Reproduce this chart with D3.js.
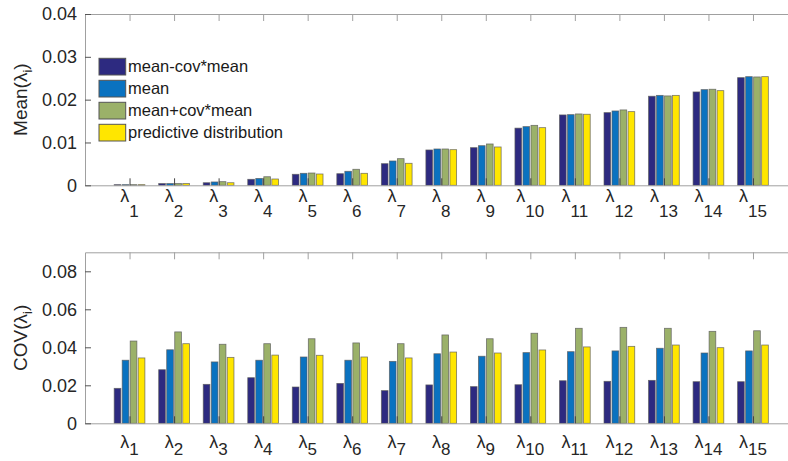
<!DOCTYPE html>
<html>
<head>
<meta charset="utf-8">
<script src="https://cdn.jsdelivr.net/npm/d3@7"></script>
<style>
body{margin:0;background:#fff;}
text{font-family:"Liberation Sans",Arial,sans-serif;}
</style>
</head>
<body>
<svg id="box" width="788" height="461"></svg>
<script>
let lambdas=["1","2","3","4","5","6","7","8","9","10","11","12","13","14","15"];
let seriesNames=["mean-cov*mean","mean","mean+cov*mean","predictive distribution"];
let seriesColors=["#2d2a80","#0a72c0","#9bb169","#ffe600"];

// Mean(lambda_i), one array per series
let meanLow =[0.00015,0.0004,0.0006,0.0014,0.00257,0.00271,0.00505,0.00825,0.00879,0.01335,0.01643,0.01697,0.0208,0.0218,0.02514];
let meanMid =[0.00015,0.0004,0.00078,0.0016,0.0028,0.00327,0.00568,0.00848,0.00925,0.0137,0.0165,0.01736,0.0210,0.02234,0.02537];
let meanHigh=[0.00015,0.0004,0.00085,0.0020,0.00287,0.00374,0.00622,0.00848,0.00965,0.0140,0.01666,0.0176,0.02087,0.02243,0.0253];
let meanPred=[0.00015,0.0004,0.0006,0.00147,0.00264,0.0028,0.00514,0.00832,0.00895,0.01346,0.01659,0.0172,0.0210,0.0221,0.02537];

// COV(lambda_i)
let covLow =[0.0184,0.0282,0.0205,0.0240,0.0191,0.0210,0.0172,0.0202,0.0193,0.0203,0.0224,0.0221,0.0226,0.0219,0.0219];
let covMid =[0.0332,0.0387,0.0323,0.0332,0.0349,0.0332,0.0326,0.0366,0.0353,0.0372,0.0377,0.0381,0.0395,0.0370,0.0381];
let covHigh=[0.0433,0.0481,0.0416,0.0419,0.0445,0.0423,0.0419,0.0465,0.0445,0.0474,0.0500,0.0505,0.0500,0.0484,0.0487];
let covPred=[0.0344,0.0419,0.0347,0.0359,0.0358,0.0349,0.0344,0.0375,0.0370,0.0386,0.0402,0.0405,0.0412,0.0398,0.0412];

let meanTicks=[0,0.01,0.02,0.03,0.04];
let covTicks=[0,0.02,0.04,0.06,0.08];

let box=d3.select("#box");
let axisCol="#a0a0a0";
let textCol="#262626";

let xScale=d3.scaleLinear().domain([0,16]).range([85,797.5]);
let pitch=0.18, bw=0.15;

function panel(series,yScale,ticks,top,bottom,yLabel,subDrop,labY){
  // bars
  series.forEach((vals,s)=>{
    box.append("g").selectAll("rect").data(vals).enter().append("rect")
      .attr("x",(d,i)=>xScale(i+1+(s-1.5)*pitch-bw/2))
      .attr("width",xScale(bw)-xScale(0))
      .attr("y",d=>yScale(d))
      .attr("height",d=>yScale(0)-yScale(d))
      .attr("fill",seriesColors[s])
      .attr("stroke","#5a5a5a").attr("stroke-width",0.8).attr("stroke-opacity",0.8);
  });
  let xt=d3.range(1,16);
  let gb=box.append("g").attr("transform","translate(0,"+bottom+")")
    .call(d3.axisBottom(xScale).tickValues(xt).tickFormat("").tickSize(-7).tickSizeOuter(0));
  let gt=box.append("g").attr("transform","translate(0,"+top+")")
    .call(d3.axisTop(xScale).tickValues(xt).tickFormat("").tickSize(-7).tickSizeOuter(0));
  let gl=box.append("g").attr("transform","translate(85,0)")
    .call(d3.axisLeft(yScale).tickValues(ticks).tickFormat(d=>d===0?"0":d.toFixed(2)).tickSize(-6).tickSizeOuter(0).tickPadding(8));
  [gb,gt,gl].forEach(g=>{
    g.attr("font-size",null).attr("font-family",null);
    g.selectAll("path,line").attr("stroke",axisCol);
    g.selectAll("text").attr("fill",textCol).style("font-size","18px");
  });
  gl.selectAll(".tick line").attr("stroke","#555");
  gb.selectAll(".tick line").attr("stroke","#444");
  // lambda tick labels
  let lab=box.append("g").selectAll("text").data(lambdas).enter().append("text")
    .attr("x",(d,i)=>xScale(i+1)).attr("y",labY)
    .attr("text-anchor","middle").attr("fill",textCol).style("font-size","18px");
  lab.append("tspan").text("λ");
  lab.append("tspan").attr("dy",subDrop).style("font-size","17px").text(d=>d);
  // y label
  let yl=box.append("text")
    .attr("transform","translate(27,"+((top+bottom)/2)+") rotate(-90)")
    .attr("text-anchor","middle").attr("fill",textCol).style("font-size","19px");
  yl.append("tspan").text(yLabel+"(λ");
  yl.append("tspan").attr("dy",5).style("font-size","13px").text("i");
  yl.append("tspan").attr("dy",-5).text(")");
}

let yMean=d3.scaleLinear().domain([0,0.04]).range([185.3,14]);
let yCov=d3.scaleLinear().domain([0,0.09]).range([423.3,252.3]);

panel([meanLow,meanMid,meanHigh,meanPred],yMean,meanTicks,14,185.3,"Mean",15,202);
panel([covLow,covMid,covHigh,covPred],yCov,covTicks,252.3,423.3,"COV",7,448);

// legend
let leg=box.append("g").selectAll("g").data(seriesNames).enter().append("g")
  .attr("transform",(d,i)=>"translate(99,"+(58.3+i*22)+")");
leg.append("rect").attr("width",26.7).attr("height",16.7)
  .attr("fill",(d,i)=>seriesColors[i]).attr("stroke","#555").attr("stroke-width",1);
leg.append("text").attr("x",29).attr("y",14).attr("fill","#1a1a1a")
  .style("font-size","16.5px").text(d=>d);
</script>
</body>
</html>
